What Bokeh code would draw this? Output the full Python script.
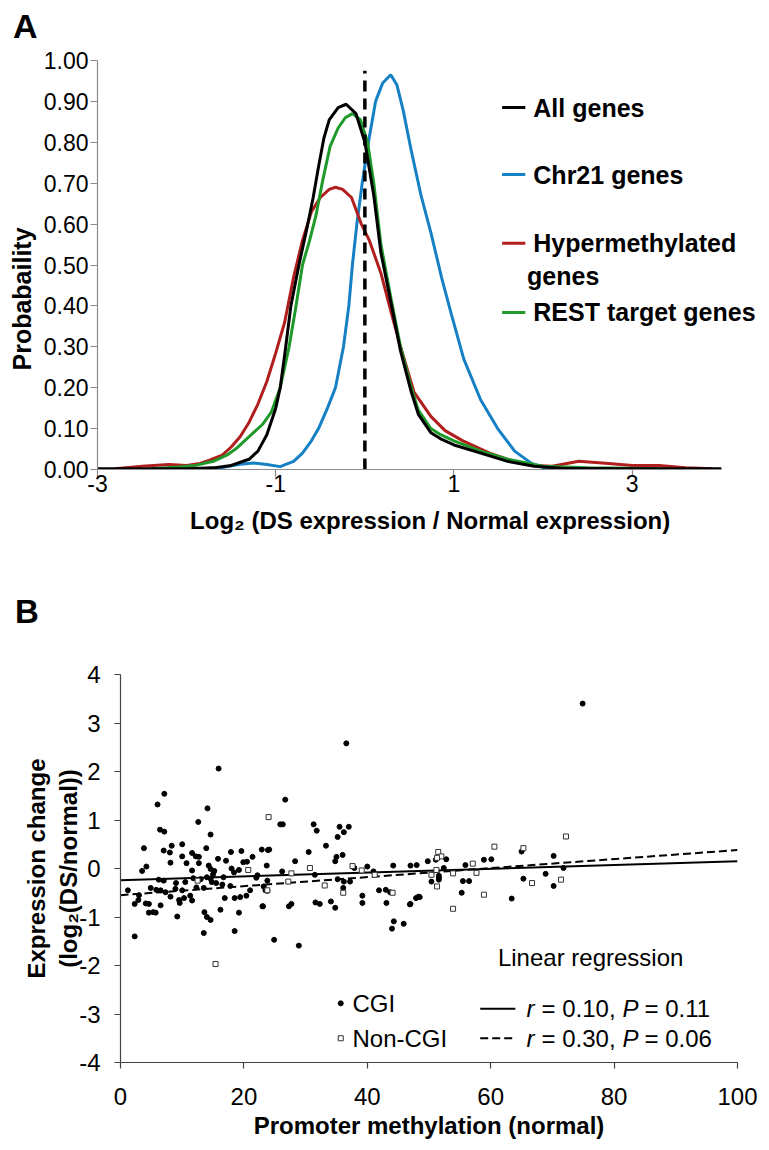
from bokeh.plotting import figure
from bokeh.models import FixedTicker, Label, Range1d, NumeralTickFormatter, PrintfTickFormatter, Title, Div
from bokeh.embed import file_html
from bokeh.resources import INLINE

# ---------------- Panel A data (density of log2 expression ratio) ----------------
x_all = [-3.0, -2.0, -1.7, -1.5, -1.3, -1.2, -1.1, -1.0, -0.95, -0.9,
         -0.83, -0.74, -0.65, -0.58, -0.52, -0.46, -0.4, -0.3, -0.21, -0.1,
         0.0, 0.1, 0.18, 0.3, 0.4, 0.52, 0.6, 0.74, 0.85, 1.0,
         1.3, 1.6, 1.9, 2.2, 3.0, 4.0]
y_all = [0.002, 0.002, 0.004, 0.01, 0.025, 0.045, 0.085, 0.15, 0.20, 0.28,
         0.40, 0.50, 0.59, 0.665, 0.74, 0.81, 0.855, 0.885, 0.893, 0.87,
         0.80, 0.67, 0.53, 0.40, 0.29, 0.19, 0.135, 0.09, 0.075, 0.06,
         0.04, 0.02, 0.008, 0.003, 0.002, 0.002]

x_chr21 = [-1.9, -1.6, -1.4, -1.25, -1.1, -0.95, -0.8, -0.7, -0.6, -0.52,
           -0.42, -0.33, -0.24, -0.18, -0.14, -0.09, -0.03, 0.04, 0.12, 0.2,
           0.29, 0.36, 0.43, 0.52, 0.63, 0.74, 0.86, 0.97, 1.11, 1.3,
           1.49, 1.68, 1.87, 2.0, 2.5, 3.0, 3.5]
y_chr21 = [0.0, 0.005, 0.013, 0.016, 0.012, 0.007, 0.02, 0.04, 0.07, 0.10,
           0.15, 0.20, 0.30, 0.40, 0.50, 0.60, 0.70, 0.80, 0.90, 0.945,
           0.965, 0.94, 0.878, 0.78, 0.67, 0.58, 0.47, 0.38, 0.27, 0.17,
           0.10, 0.045, 0.015, 0.005, 0.002, 0.002, 0.0]

x_hyper = [-2.8, -2.5, -2.2, -2.0, -1.85, -1.75, -1.6, -1.5, -1.4, -1.3,
           -1.2, -1.1, -1.0, -0.9, -0.8, -0.7, -0.6, -0.5, -0.4, -0.33,
           -0.25, -0.15, -0.04, 0.05, 0.18, 0.3, 0.4, 0.55, 0.74, 0.9,
           1.1, 1.4, 1.7, 1.9, 2.1, 2.4, 2.7, 3.0, 3.3, 3.6, 3.9]
y_hyper = [0.002, 0.008, 0.012, 0.01, 0.015, 0.022, 0.035, 0.055, 0.08, 0.115,
           0.16, 0.215, 0.285, 0.36, 0.47, 0.56, 0.63, 0.665, 0.685, 0.69,
           0.685, 0.665, 0.60, 0.56, 0.48, 0.38, 0.30, 0.19, 0.13, 0.095,
           0.07, 0.04, 0.018, 0.01, 0.008, 0.02, 0.015, 0.01, 0.01, 0.004, 0.002]

x_rest = [-2.4, -2.1, -1.9, -1.7, -1.55, -1.45, -1.35, -1.25, -1.15, -1.05,
          -0.95, -0.85, -0.78, -0.70, -0.62, -0.55, -0.47, -0.39, -0.3, -0.22,
          -0.14, -0.05, 0.03, 0.1, 0.18, 0.3, 0.4, 0.52, 0.6, 0.74,
          0.85, 1.0, 1.3, 1.6, 2.0, 2.5, 3.0, 3.5]
y_rest = [0.002, 0.006, 0.01, 0.02, 0.035, 0.05, 0.07, 0.09, 0.11, 0.14,
          0.20, 0.30, 0.39, 0.50, 0.56, 0.62, 0.71, 0.79, 0.835, 0.86,
          0.87, 0.855, 0.80, 0.70, 0.55, 0.41, 0.30, 0.20, 0.145, 0.10,
          0.085, 0.07, 0.045, 0.025, 0.008, 0.004, 0.003, 0.0]

series_names = ["All genes", "Chr21 genes", "Hypermethylated", "REST target genes"]
a_xticks = [-3, -1, 1, 3]
a_yticks = [0.0, 0.1, 0.2, 0.3, 0.4, 0.5, 0.6, 0.7, 0.8, 0.9, 1.0]
zero_x = [0, 0]
zero_y = [0, 0.975]

# ---------------- Panel B data (methylation vs expression change) ----------------
cgi_x = [7.1, 6.0, 14.1, 15.9, 26.7, 36.6, 74.9, 12.6, 6.4, 7.1,
         14.6, 3.8, 8.3, 10.0, 7.0, 8.0, 11.6, 13.9, 10.0, 12.2,
         12.7, 8.1, 10.7, 12.7, 3.5, 4.2, 14.3, 14.6, 15.8, 17.1,
         17.9, 19.6, 21.4, 22.9, 23.9, 20.5, 19.9, 19.2, 18.4, 11.6,
         14.0, 14.6, 16.7, 22.2, 23.8, 6.2, 7.0, 1.2, 2.3, 2.9,
         4.1, 4.6, 4.9, 5.8, 6.5, 7.3, 8.1, 6.5, 4.6, 5.3,
         5.7, 9.2, 9.5, 9.6, 10.3, 11.3, 11.6, 12.3, 13.5, 13.6,
         14.0, 14.6, 13.5, 16.9, 16.2, 18.5, 18.5, 19.4, 20.4, 19.2,
         21.0, 23.0, 23.8, 2.3, 22.0, 15.5, 16.5, 17.8, 9.0, 10.5,
         11.8, 13.0, 15.0, 3.0, 8.9, 25.9, 26.3, 31.3, 31.8, 35.5,
         37.0, 36.2, 35.2, 33.3, 24.1, 30.5, 28.3, 23.7, 35.0, 34.8,
         36.0, 37.9, 26.2, 31.5, 40.0, 41.0, 44.2, 47.0, 35.2, 36.2,
         37.2, 36.1, 23.2, 23.5, 23.1, 27.3, 27.7, 31.6, 32.3, 34.1,
         34.8, 39.2, 39.2, 41.9, 43.0, 43.7, 43.1, 47.9, 48.3, 46.9,
         44.3, 44.0, 45.9, 24.9, 28.9, 65.0, 70.2, 52.8, 51.1, 49.8,
         48.0, 52.4, 55.9, 58.9, 51.6, 51.6, 51.6, 50.4, 55.5, 56.5,
         55.3, 63.4, 65.3, 68.9, 70.2, 71.8, 48.5, 47.0, 60.1, 14.8,
         15.2, 18.0, 10.0]
cgi_y = [1.54, 1.32, 1.24, 2.06, 1.42, 2.58, 3.40, 0.96, 0.80, 0.76,
         0.70, 0.42, 0.47, 0.50, 0.37, 0.33, 0.32, 0.42, 0.25, 0.25,
         0.24, 0.12, 0.11, 0.11, -0.05, 0.04, 0.06, -0.01, 0.20, 0.16,
         0.34, 0.36, 0.24, 0.39, 0.38, 0.14, 0.13, -0.03, -0.08, -0.04,
         -0.18, -0.21, -0.18, -0.14, -0.25, -0.23, -0.25, -0.45, -0.73, -0.65,
         -0.72, -0.73, -0.40, -0.44, -0.45, -0.49, -0.58, -0.76, -0.91, -0.90,
         -0.91, -0.99, -0.65, -0.71, -0.61, -0.56, -0.66, -0.39, -0.40, -0.90,
         -1.00, -1.06, -1.33, -0.61, -0.85, -1.29, -0.61, -0.59, -0.56, -0.91,
         -0.45, -0.78, -0.46, -1.40, -0.19, -0.30, -0.33, -0.36, -0.30, -0.28,
         -0.20, -0.22, -0.12, -0.55, -0.42, 0.91, 0.91, 0.91, 0.78, 0.86,
         0.86, 0.75, 0.65, 0.47, 0.39, 0.34, 0.15, 0.06, 0.24, 0.15,
         0.28, 0.01, -0.06, -0.13, 0.04, -0.06, 0.06, 0.06, -0.22, -0.27,
         -0.27, -0.40, -0.37, -0.45, -0.78, -0.78, -0.73, -0.70, -0.73, -0.68,
         -0.81, -0.56, -0.71, -0.45, -0.44, -0.49, -0.71, -0.61, -0.58, -0.74,
         -1.09, -1.24, -1.14, -1.47, -1.59, 0.35, 0.26, 0.19, 0.18, 0.15,
         0.07, 0.01, 0.07, 0.18, -0.15, -0.19, -0.23, -0.27, -0.26, -0.26,
         -0.50, -0.62, -0.21, -0.11, -0.36, 0.01, -0.59, -0.73, 0.19, -0.28,
         -0.05, 0.00, -0.45]

noncgi_x = [24.0, 20.7, 12.5, 15.4, 37.6, 30.7, 27.7, 39.1, 41.2, 27.2,
            33.1, 36.1, 23.8, 44.1, 72.2, 60.6, 65.3, 51.5, 52.0, 51.3,
            57.1, 57.7, 53.9, 50.4, 51.2, 51.3, 58.9, 66.7, 71.4, 53.9]
noncgi_y = [1.06, -0.03, -0.25, -1.97, 0.05, 0.01, -0.10, -0.04, -0.13, -0.27,
            -0.35, -0.50, -0.45, -0.50, 0.66, 0.45, 0.42, 0.34, 0.25, 0.22,
            0.10, -0.09, -0.10, -0.13, -0.03, -0.37, -0.54, -0.30, -0.23, -0.83]

fit_x = [0, 100]
fit_cgi_y = [-0.24, 0.15]
fit_noncgi_y = [-0.55, 0.38]
fit_stats = [("0.10", "0.11"), ("0.30", "0.06")]
b_xticks = [0, 20, 40, 60, 80, 100]
b_yticks = [-4, -3, -2, -1, 0, 1, 2, 3, 4]

FONT = "Liberation Sans"
BLACK = "#000000"
BLUE = "#1580c4"
RED = "#b01e1e"
GREEN = "#1f9a2a"


def style_axis(ax, color, size):
    ax.axis_line_color = color
    ax.axis_line_width = 1.2
    ax.major_tick_line_color = color
    ax.major_tick_line_width = 1.2
    ax.minor_tick_line_color = None
    ax.major_tick_in = 0
    ax.major_label_text_font = FONT
    ax.major_label_text_font_size = size
    ax.major_label_text_color = "black"
    ax.axis_label_text_font = FONT
    ax.axis_label_text_font_style = "bold"
    ax.axis_label_text_color = "black"


def lab(p, x, y, text, size, style="normal", align="left", baseline="middle", x_offset=0):
    p.add_layout(Label(x=x, y=y, text=text, text_font=FONT, text_font_size=size,
                       text_font_style=style, text_align=align, text_baseline=baseline,
                       x_offset=x_offset, text_color="black"))


def letter_div(text, size, top, left, height):
    html = ('<div style="padding:%dpx 0 0 %dpx; font-family:\'Liberation Sans\'; '
            'font-weight:bold; font-size:%dpx; line-height:%dpx; color:#000;">%s</div>'
            % (top, left, size, size, text))
    return Div(text=html, width=769, height=height, margin=0)


# ---------------- Panel A ----------------
divA = letter_div("A", 34, 9, 13, 44)
pA = figure(width=769, height=524, x_range=Range1d(-3, 4.54), y_range=Range1d(0, 1.0),
            output_backend="svg", toolbar_location=None, title=None,
            min_border_left=97, min_border_right=0, min_border_top=16, min_border_bottom=99)
pA.grid.visible = False
pA.outline_line_color = None
pA.background_fill_color = "white"
pA.border_fill_color = "white"

pA.line(x_chr21, y_chr21, line_color=BLUE, line_width=3)
pA.line(x_hyper, y_hyper, line_color=RED, line_width=3)
pA.line(x_rest, y_rest, line_color=GREEN, line_width=3)
pA.line(x_all, y_all, line_color=BLACK, line_width=3)
pA.line(zero_x, zero_y, line_color="black", line_width=3.5, line_dash="11 7")

style_axis(pA.xaxis[0], "#8a8a8a", "23px")
style_axis(pA.yaxis[0], "#8a8a8a", "23px")
pA.xaxis.bounds = (-3, 4)
pA.xaxis.ticker = FixedTicker(ticks=a_xticks)
pA.yaxis.ticker = FixedTicker(ticks=a_yticks)
pA.xaxis.formatter = PrintfTickFormatter(format="%d")
pA.yaxis.formatter = NumeralTickFormatter(format="0.00")
pA.xaxis.major_tick_out = 7
pA.yaxis.major_tick_out = 7
pA.xaxis.major_label_standoff = -2
pA.yaxis.major_label_standoff = 2
pA.xaxis.axis_label = "Log\u2082 (DS expression  / Normal expression)"
pA.xaxis.axis_label_text_font_size = "24px"
pA.xaxis.axis_label_standoff = 12
pA.add_layout(Title(text="Probabaility", align="left", offset=99, standoff=10,
                    text_font=FONT, text_font_size="25px", text_font_style="bold",
                    text_color="black"), "left")

# legend A
leg_y = [0.885, 0.721, 0.553, 0.384]
leg_c = [BLACK, BLUE, RED, GREEN]
pA.segment(x0=[1.54] * 4, y0=leg_y, x1=[1.80] * 4, y1=leg_y, line_color=leg_c, line_width=3)
for yy, name in zip(leg_y, series_names):
    lab(pA, 1.89, yy, name, "25px", style="bold")
lab(pA, 1.82, 0.474, "genes", "25px", style="bold")

# ---------------- Panel B ----------------
divB = letter_div("B", 33, 27, 15, 62)
pB = figure(width=769, height=520, x_range=Range1d(0, 100), y_range=Range1d(-4, 4),
            output_backend="svg", toolbar_location=None, title=None,
            min_border_left=120, min_border_right=32, min_border_top=44, min_border_bottom=88)
pB.grid.visible = False
pB.outline_line_color = None
pB.background_fill_color = "white"
pB.border_fill_color = "white"

pB.line(fit_x, fit_cgi_y, line_color="black", line_width=2)
pB.line(fit_x, fit_noncgi_y, line_color="black", line_width=2, line_dash="8 4")
pB.scatter(cgi_x, cgi_y, marker="circle", size=5, fill_color="black", line_color="black")
pB.scatter(noncgi_x, noncgi_y, marker="square", size=5, fill_color="white",
           line_color="#333333", line_width=1)

style_axis(pB.xaxis[0], "#444444", "24px")
style_axis(pB.yaxis[0], "#444444", "24px")
pB.xaxis.ticker = FixedTicker(ticks=b_xticks)
pB.yaxis.ticker = FixedTicker(ticks=b_yticks)
pB.yaxis.formatter = PrintfTickFormatter(format="%d")
pB.xaxis.major_tick_out = 6
pB.yaxis.major_tick_out = 6
pB.xaxis.major_label_standoff = 19
pB.yaxis.major_label_standoff = 14
pB.xaxis.axis_label = "Promoter methylation (normal)"
pB.yaxis.axis_label = "Expression change\n(log\u2082(DS/normal))"
pB.xaxis.axis_label_text_font_size = "24px"
pB.yaxis.axis_label_text_font_size = "24px"
pB.xaxis.axis_label_standoff = 4
pB.yaxis.axis_label_standoff = -6

# legend B
pB.scatter([35.7], [-2.78], marker="circle", size=5, fill_color="black", line_color="black")
pB.scatter([35.7], [-3.5], marker="square", size=5, fill_color="white", line_color="#333333")
lab(pB, 37.6, -2.78, "CGI", "24px")
lab(pB, 37.6, -3.5, "Non-CGI", "24px")
lab(pB, 76.2, -1.84, "Linear regression", "24px", align="center")
pB.line([58.3, 64.0], [-2.89, -2.89], line_color="black", line_width=2)
pB.line([58.3, 64.0], [-3.5, -3.5], line_color="black", line_width=2, line_dash="8 4")
for yy, (rv, pv) in zip([-2.89, -3.5], fit_stats):
    lab(pB, 65.8, yy, "r", "24px", style="italic")
    lab(pB, 65.8, yy, "= " + rv + ",", "24px", x_offset=15)
    lab(pB, 65.8, yy, "P", "24px", style="italic", x_offset=96)
    lab(pB, 65.8, yy, "= " + pv, "24px", x_offset=118)

open("out.html", "w").write(file_html([divA, pA, divB, pB], INLINE))
